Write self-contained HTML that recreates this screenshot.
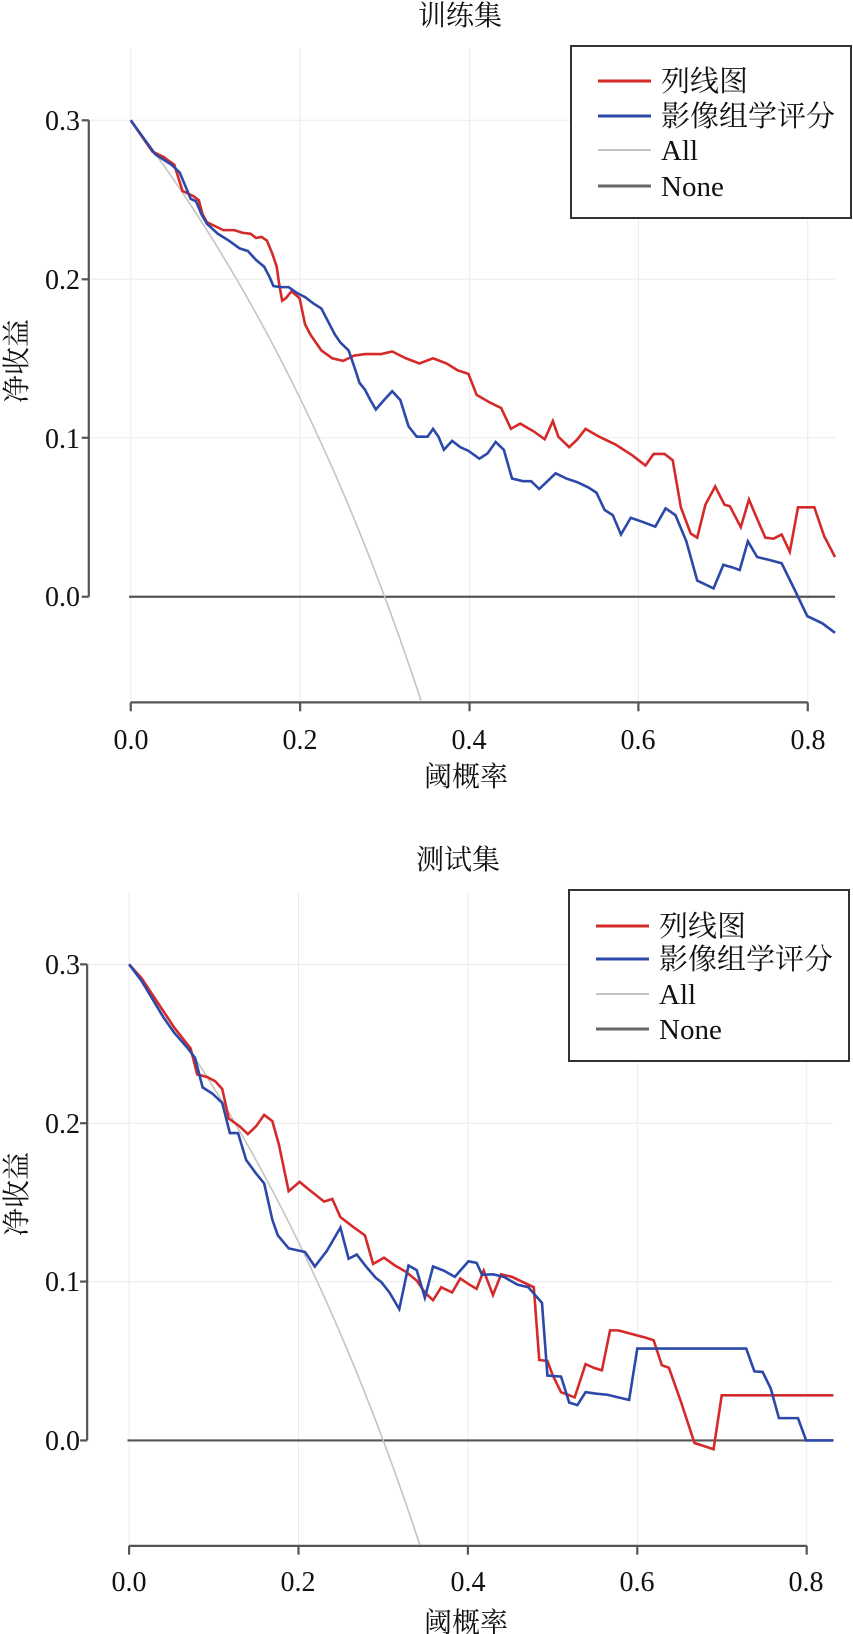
<!DOCTYPE html>
<html><head><meta charset="utf-8">
<style>
html,body{margin:0;padding:0;background:#fff;}
svg{display:block;}
text{font-family:"Liberation Serif","Noto Serif CJK SC","Noto Sans CJK SC",serif;fill:#111;}
</style></head>
<body>
<svg id="s" width="853" height="1634" viewBox="0 0 853 1634" xmlns="http://www.w3.org/2000/svg">
<!-- TOP CHART -->
<g transform="scale(0.5447,0.523)" fill="none">
  <g stroke="#ebebeb" stroke-width="1" vector-effect="non-scaling-stroke">
    <line x1="240" y1="92" x2="240" y2="1343" vector-effect="non-scaling-stroke"/>
    <line x1="551" y1="92" x2="551" y2="1343" vector-effect="non-scaling-stroke"/>
    <line x1="862" y1="92" x2="862" y2="1343" vector-effect="non-scaling-stroke"/>
    <line x1="1172" y1="92" x2="1172" y2="1343" vector-effect="non-scaling-stroke"/>
    <line x1="1483" y1="92" x2="1483" y2="1343" vector-effect="non-scaling-stroke"/>
    <line x1="163" y1="230" x2="1533" y2="230" vector-effect="non-scaling-stroke"/>
    <line x1="163" y1="534" x2="1533" y2="534" vector-effect="non-scaling-stroke"/>
    <line x1="163" y1="837" x2="1533" y2="837" vector-effect="non-scaling-stroke"/>
  </g>
  <g stroke="#555" stroke-width="2.2">
    <line x1="163" y1="230" x2="163" y2="1141" vector-effect="non-scaling-stroke"/>
    <line x1="240" y1="1343" x2="1483" y2="1343" vector-effect="non-scaling-stroke"/>
    <line x1="150" y1="230" x2="163" y2="230" vector-effect="non-scaling-stroke"/>
    <line x1="150" y1="534" x2="163" y2="534" vector-effect="non-scaling-stroke"/>
    <line x1="150" y1="837" x2="163" y2="837" vector-effect="non-scaling-stroke"/>
    <line x1="150" y1="1141" x2="163" y2="1141" vector-effect="non-scaling-stroke"/>
    <line x1="240" y1="1343" x2="240" y2="1360" vector-effect="non-scaling-stroke"/>
    <line x1="551" y1="1343" x2="551" y2="1360" vector-effect="non-scaling-stroke"/>
    <line x1="862" y1="1343" x2="862" y2="1360" vector-effect="non-scaling-stroke"/>
    <line x1="1172" y1="1343" x2="1172" y2="1360" vector-effect="non-scaling-stroke"/>
    <line x1="1483" y1="1343" x2="1483" y2="1360" vector-effect="non-scaling-stroke"/>
    <line x1="237" y1="1141" x2="1533" y2="1141" stroke="#555" vector-effect="non-scaling-stroke"/>
  </g>
  <polyline id="allTop" stroke="#c4c4c4" stroke-width="1.6" vector-effect="non-scaling-stroke" points=""/>
  <polyline stroke="#d42a2a" stroke-width="2.6" vector-effect="non-scaling-stroke" points="240,230 280,290 300,300 320,315 335,365 345,370 355,375 365,383 372,410 380,425 400,435 410,440 430,440 445,445 460,447 470,455 480,453 490,460 500,485 508,510 512,540 518,575 525,570 535,557 550,570 560,620 570,640 590,670 610,685 630,690 650,680 670,677 700,677 720,672 745,685 770,695 795,685 820,695 840,708 860,715 875,755 900,770 920,780 938,820 955,810 980,825 1000,840 1015,805 1025,835 1045,855 1060,840 1075,820 1100,835 1130,850 1160,870 1185,890 1200,868 1220,868 1235,880 1250,970 1268,1020 1280,1028 1295,965 1313,930 1330,965 1340,968 1360,1008 1375,955 1385,980 1405,1028 1420,1030 1435,1022 1450,1055 1465,970 1495,970 1513,1025 1533,1065"/>
  <polyline stroke="#2c48a8" stroke-width="2.6" vector-effect="non-scaling-stroke" points="240,230 285,295 315,315 330,330 338,350 350,380 360,385 370,410 380,428 400,447 420,460 440,475 455,480 470,497 485,510 495,530 502,547 515,549 530,549 545,560 560,568 575,580 590,590 600,610 615,640 625,655 640,670 650,700 660,732 670,745 680,765 690,783 705,765 720,748 735,765 750,815 765,835 785,835 795,820 805,835 815,860 830,843 845,855 860,862 880,877 895,867 910,845 925,860 940,915 960,920 975,920 990,935 1000,925 1020,905 1040,915 1060,922 1080,932 1095,942 1110,975 1125,985 1140,1022 1158,990 1180,998 1203,1007 1222,972 1240,985 1260,1035 1280,1110 1310,1125 1328,1080 1345,1085 1358,1090 1373,1035 1390,1065 1410,1070 1435,1077 1460,1130 1482,1178 1510,1192 1533,1210"/>
</g>
<!-- top legend -->
<rect x="571" y="46" width="280" height="172" fill="#fff" stroke="#333" stroke-width="2"/>
<line x1="598" y1="81" x2="651" y2="81" stroke="#d42a2a" stroke-width="3"/>
<line x1="598" y1="116" x2="651" y2="116" stroke="#2c48a8" stroke-width="3"/>
<line x1="598" y1="150" x2="651" y2="150" stroke="#c4c4c4" stroke-width="2"/>
<line x1="598" y1="186" x2="651" y2="186" stroke="#666" stroke-width="3"/>
<g font-size="29">
<text x="661" y="91">列线图</text>
<text x="661" y="126">影像组学评分</text>
<text x="661" y="160">All</text>
<text x="661" y="196">None</text>
</g>
<g font-size="28">
<text x="460" y="25" text-anchor="middle" font-size="28">训练集</text>
<text x="80" y="130" text-anchor="end">0.3</text>
<text x="80" y="289" text-anchor="end">0.2</text>
<text x="80" y="448" text-anchor="end">0.1</text>
<text x="80" y="606" text-anchor="end">0.0</text>
<text x="131" y="749" text-anchor="middle">0.0</text>
<text x="300" y="749" text-anchor="middle">0.2</text>
<text x="469" y="749" text-anchor="middle">0.4</text>
<text x="638" y="749" text-anchor="middle">0.6</text>
<text x="808" y="749" text-anchor="middle">0.8</text>
<text x="466" y="786" text-anchor="middle">阈概率</text>
<text transform="translate(26,361) rotate(-90)" text-anchor="middle">净收益</text>
</g>

<!-- BOTTOM CHART -->
<g transform="translate(0,820) scale(0.5447,0.5192)" fill="none">
  <g stroke="#ebebeb" stroke-width="1">
    <line x1="237" y1="140" x2="237" y2="1398" vector-effect="non-scaling-stroke"/>
    <line x1="548" y1="140" x2="548" y2="1398" vector-effect="non-scaling-stroke"/>
    <line x1="859" y1="140" x2="859" y2="1398" vector-effect="non-scaling-stroke"/>
    <line x1="1170" y1="140" x2="1170" y2="1398" vector-effect="non-scaling-stroke"/>
    <line x1="1481" y1="140" x2="1481" y2="1398" vector-effect="non-scaling-stroke"/>
    <line x1="160" y1="278" x2="1530" y2="278" vector-effect="non-scaling-stroke"/>
    <line x1="160" y1="584" x2="1530" y2="584" vector-effect="non-scaling-stroke"/>
    <line x1="160" y1="889" x2="1530" y2="889" vector-effect="non-scaling-stroke"/>
  </g>
  <g stroke="#555" stroke-width="2.2">
    <line x1="160" y1="278" x2="160" y2="1195" vector-effect="non-scaling-stroke"/>
    <line x1="237" y1="1398" x2="1481" y2="1398" vector-effect="non-scaling-stroke"/>
    <line x1="147" y1="278" x2="160" y2="278" vector-effect="non-scaling-stroke"/>
    <line x1="147" y1="584" x2="160" y2="584" vector-effect="non-scaling-stroke"/>
    <line x1="147" y1="889" x2="160" y2="889" vector-effect="non-scaling-stroke"/>
    <line x1="147" y1="1195" x2="160" y2="1195" vector-effect="non-scaling-stroke"/>
    <line x1="237" y1="1398" x2="237" y2="1415" vector-effect="non-scaling-stroke"/>
    <line x1="548" y1="1398" x2="548" y2="1415" vector-effect="non-scaling-stroke"/>
    <line x1="859" y1="1398" x2="859" y2="1415" vector-effect="non-scaling-stroke"/>
    <line x1="1170" y1="1398" x2="1170" y2="1415" vector-effect="non-scaling-stroke"/>
    <line x1="1481" y1="1398" x2="1481" y2="1415" vector-effect="non-scaling-stroke"/>
    <line x1="234" y1="1195" x2="1530" y2="1195" vector-effect="non-scaling-stroke"/>
  </g>
  <polyline id="allBot" stroke="#c4c4c4" stroke-width="1.6" vector-effect="non-scaling-stroke" points=""/>
  <polyline stroke="#d42a2a" stroke-width="2.6" vector-effect="non-scaling-stroke" points="237,278 260,305 320,400 350,440 362,490 380,495 395,503 408,518 420,575 440,590 455,605 470,590 485,568 500,580 512,625 530,715 550,697 565,710 595,735 610,730 625,765 650,785 670,800 685,855 705,843 725,858 745,870 765,887 780,910 795,925 810,900 830,910 845,883 862,895 875,903 888,868 905,915 920,875 940,880 960,890 980,900 990,1040 1005,1042 1015,1070 1030,1102 1055,1112 1075,1048 1090,1055 1105,1060 1120,983 1135,983 1160,990 1185,997 1200,1002 1215,1050 1228,1055 1250,1120 1275,1200 1290,1205 1310,1212 1325,1108 1530,1108"/>
  <polyline stroke="#2c48a8" stroke-width="2.6" vector-effect="non-scaling-stroke" points="237,278 260,310 280,345 300,380 320,410 345,440 358,458 372,515 390,527 408,545 422,603 437,603 452,655 468,678 485,700 500,770 510,800 530,825 560,832 578,860 600,830 625,785 640,845 655,837 672,860 690,882 700,890 715,910 733,942 750,858 765,867 780,920 795,860 815,868 835,880 860,850 875,853 885,876 905,875 925,880 950,895 970,900 995,930 1005,1070 1030,1072 1045,1122 1060,1127 1075,1102 1095,1105 1115,1107 1135,1112 1155,1117 1170,1018 1370,1018 1385,1062 1400,1063 1415,1095 1430,1152 1465,1152 1480,1195 1530,1195"/>
</g>
<rect x="569" y="890" width="280" height="171" fill="#fff" stroke="#333" stroke-width="2"/>
<line x1="596" y1="926" x2="649" y2="926" stroke="#d42a2a" stroke-width="3"/>
<line x1="596" y1="959" x2="649" y2="959" stroke="#2c48a8" stroke-width="3"/>
<line x1="596" y1="994" x2="649" y2="994" stroke="#c4c4c4" stroke-width="2"/>
<line x1="596" y1="1029" x2="649" y2="1029" stroke="#666" stroke-width="3"/>
<g font-size="29">
<text x="659" y="936">列线图</text>
<text x="659" y="969">影像组学评分</text>
<text x="659" y="1004">All</text>
<text x="659" y="1039">None</text>
</g>
<g font-size="28">
<text x="458" y="869" text-anchor="middle" font-size="28">测试集</text>
<text x="80" y="974" text-anchor="end">0.3</text>
<text x="80" y="1133" text-anchor="end">0.2</text>
<text x="80" y="1291" text-anchor="end">0.1</text>
<text x="80" y="1450" text-anchor="end">0.0</text>
<text x="129" y="1591" text-anchor="middle">0.0</text>
<text x="298" y="1591" text-anchor="middle">0.2</text>
<text x="468" y="1591" text-anchor="middle">0.4</text>
<text x="637" y="1591" text-anchor="middle">0.6</text>
<text x="806" y="1591" text-anchor="middle">0.8</text>
<text x="466" y="1632" text-anchor="middle">阈概率</text>
<text transform="translate(26,1194) rotate(-90)" text-anchor="middle">净收益</text>
</g>
</svg>
<script>
function allPts(x0,x8,y3,y0,tmax){
  var p=[];
  for(var i=0;i<=80;i++){
    var t=i/80*tmax;
    var nb=0.3-0.7*t/(1-t);
    var x=x0+(x8-x0)*t/0.8;
    var y=y0-(y0-y3)*nb/0.3;
    p.push(x.toFixed(1)+","+y.toFixed(1));
  }
  return p.join(" ");
}
document.getElementById("allTop").setAttribute("points",allPts(240,1483,230,1141,0.343));
document.getElementById("allBot").setAttribute("points",allPts(237,1481,278,1195,0.343));
</script>
</body></html>
